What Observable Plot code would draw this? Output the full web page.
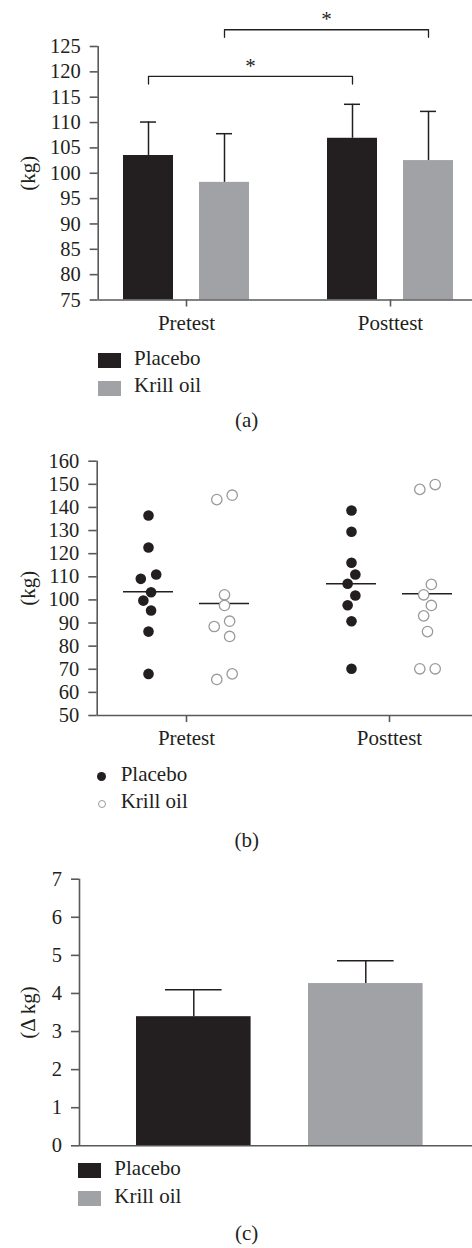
<!DOCTYPE html>
<html><head><meta charset="utf-8">
<script src="https://cdn.jsdelivr.net/npm/d3@7"></script>
<script src="https://cdn.jsdelivr.net/npm/@observablehq/plot@0.6"></script>
<style>
body{margin:0;background:#fff;}
#root{position:relative;width:472px;height:1248px;font-family:'Liberation Serif',serif;color:#231f20;overflow:hidden;}
.lbl{position:absolute;font-family:'Liberation Serif',serif;font-size:21px;line-height:21px;white-space:nowrap;}
.sw{position:absolute;width:23px;height:15px;}
.cap{position:absolute;font-family:'Liberation Serif',serif;font-size:21px;line-height:21px;width:100px;text-align:center;}
.dot{position:absolute;border-radius:50%;box-sizing:border-box;}
</style></head><body><div id="root"></div>
<script>
// ---------- data ----------
const times = ["Pretest", "Posttest"];
const groups = ["Placebo", "Krill oil"];

// (a) group means and upper error (kg)
const meanPlacebo = [103.5, 106.9];
const meanKrill = [98.2, 102.5];
const errPlacebo = [6.6, 6.7];
const errKrill = [9.6, 9.7];
const yTicksA = [75, 80, 85, 90, 95, 100, 105, 110, 115, 120, 125];
// significance brackets: Pretest vs Posttest within group
const sigGroups = ["Placebo", "Krill oil"];
const sigLevels = [119.1, 128.3];
const sigLabels = ["*", "*"];

// (b) individual values (kg)
const prePlacebo = [136.5, 122.7, 111.0, 109.1, 103.3, 99.7, 95.4, 86.3, 68.0];
const preKrill = [145.3, 143.4, 102.2, 97.6, 90.8, 88.5, 84.2, 68.0, 65.6];
const postPlacebo = [138.7, 129.5, 116.1, 111.0, 107.0, 101.9, 97.7, 90.8, 70.2];
const postKrill = [149.9, 147.8, 106.7, 102.2, 97.6, 93.1, 86.3, 70.2, 70.2];
const yTicksB = [50, 60, 70, 80, 90, 100, 110, 120, 130, 140, 150, 160];

// (c) change (Δ kg)
const deltaMean = [3.39, 4.26];
const deltaErr = [0.71, 0.60];
const yTicksC = [0, 1, 2, 3, 4, 5, 6, 7];

// ---------- styling ----------
const INK = "#231f20", GRAY = "#a1a2a5", AXIS = "#58595b", OPEN = "#9a9a9a";
const FONT = "'Liberation Serif', serif";
const root = document.getElementById("root");
const baseStyle = {fontFamily: FONT, fontSize: "21px", color: INK, background: "transparent", overflow: "visible"};
function place(el, top) { el.style.position = "absolute"; el.style.left = "0px"; el.style.top = top + "px"; root.appendChild(el); }
function addText(cls, txt, left, top) { const d = document.createElement("div"); d.className = cls; d.textContent = txt; d.style.left = left + "px"; d.style.top = top + "px"; root.appendChild(d); return d; }
function addBox(cls, left, top, w, h, css) { const d = document.createElement("div"); d.className = cls; Object.assign(d.style, {left: left + "px", top: top + "px", width: w + "px", height: h + "px"}, css); root.appendChild(d); return d; }
const color = {domain: groups, range: [INK, GRAY]};
const axisCommon = {stroke: AXIS, strokeWidth: 1.6, label: null, fontFamily: FONT};
const intFmt = d3.format("d");
const yLabel = (txt, axX) => Plot.text([txt], {frameAnchor: "left", textAnchor: "middle", lineAnchor: "middle", rotate: -90, dx: 28 - axX, fontSize: 21, fontFamily: FONT, fill: INK});

// ---------- (a) ----------
{
  const W = 472, axX = 97.7, cat0 = 186, pxU = 204;
  const off = 38 / pxU, hw = 25 / pxU, cap = 8 / pxU;
  const goff = g => (g === "Placebo" ? -off : off);
  const rows = [];
  times.forEach((t, i) => {
    rows.push({time: t, group: "Placebo", x: i + goff("Placebo"), mean: meanPlacebo[i], top: meanPlacebo[i] + errPlacebo[i]});
    rows.push({time: t, group: "Krill oil", x: i + goff("Krill oil"), mean: meanKrill[i], top: meanKrill[i] + errKrill[i]});
  });
  const brLines = [], brStars = [];
  sigGroups.forEach((g, k) => {
    const x1 = 0 + goff(g), x2 = 1 + goff(g), lv = sigLevels[k], dr = lv - 1.5;
    brLines.push({k, x: x1, y: dr}, {k, x: x1, y: lv}, {k, x: x2, y: lv}, {k, x: x2, y: dr});
    brStars.push({x: (x1 + x2) / 2, y: lv, t: sigLabels[k]});
  });
  const yMin = 75, yMax = 125;
  const p = Plot.plot({
    width: W, height: 336, marginLeft: axX, marginRight: 0, marginTop: 46, marginBottom: 36.5,
    x: {type: "linear", domain: [(axX - cat0) / pxU, (W - cat0) / pxU], axis: null},
    y: {domain: [yMin, yMax], axis: null},
    color, style: baseStyle,
    marks: [
      Plot.rect(rows, {x1: d => d.x - hw, x2: d => d.x + hw, y1: yMin, y2: "mean", fill: "group"}),
      Plot.ruleX(rows, {x: "x", y1: "mean", y2: "top", stroke: INK, strokeWidth: 1.5}),
      Plot.ruleY(rows, {y: "top", x1: d => d.x - cap, x2: d => d.x + cap, stroke: INK, strokeWidth: 1.5}),
      Plot.line(brLines, {x: "x", y: "y", z: "k", stroke: INK, strokeWidth: 1.3}),
      Plot.text(brStars, {x: "x", y: "y", text: "t", dy: -10.5, fontSize: 21, fontFamily: FONT, fill: INK}),
      Plot.ruleY([yMin], {stroke: AXIS, strokeWidth: 1.6}),
      Plot.ruleX([(axX - cat0) / pxU], {y1: yMin, y2: yMax, stroke: AXIS, strokeWidth: 1.6}),
      Plot.axisY({...axisCommon, ticks: yTicksA, tickFormat: intFmt, tickSize: 8, tickPadding: 9.5, fontSize: 20.5}),
      Plot.axisX({...axisCommon, ticks: [0, 1], tickFormat: i => times[i], tickSize: 7, tickPadding: 8, fontSize: 21}),
      yLabel("(kg)", axX)
    ]
  });
  place(p, 0);
  addBox("sw", 98, 353, 23, 15, {background: INK});
  addBox("sw", 98, 381, 23, 15, {background: GRAY});
  addText("lbl", groups[0], 134, 348.4);
  addText("lbl", groups[1], 134, 375.4);
  addText("cap", "(a)", 196.7, 410.4);
}

// ---------- (b) ----------
function swarmSlots(vals, pxPerUnit, stepPx, minDist) {
  const n = vals.length, slot = new Array(n);
  const order = d3.range(n).sort((a, b) => vals[b] - vals[a]);
  const placed = [];
  for (const i of order) {
    for (const s of [0, -1, 1, -2, 2, -3, 3, -4, 4]) {
      if (placed.every(j => Math.hypot((s - slot[j]) * stepPx, (vals[i] - vals[j]) * pxPerUnit) >= minDist)) { slot[i] = s; placed.push(i); break; }
    }
  }
  let cluster = [order[0]];
  const flush = () => { const m = d3.mean(cluster, j => slot[j]); cluster.forEach(j => slot[j] -= m); };
  for (let k = 1; k < n; k++) {
    const i = order[k], q = order[k - 1];
    if ((vals[q] - vals[i]) * pxPerUnit < minDist) cluster.push(i); else { flush(); cluster = [i]; }
  }
  flush();
  return slot;
}
{
  const W = 472, axX = 96.7, cat0 = 186, pxU = 203, mTop = 20.7, mBot = 35, H = 310;
  const yMin = 50, yMax = 160;
  const ppu = (H - mTop - mBot) / (yMax - yMin);
  const off = 38 / pxU, hw = 25 / pxU, step = 7.7 / pxU;
  const sets = [
    {time: 0, group: "Placebo", vals: prePlacebo},
    {time: 0, group: "Krill oil", vals: preKrill},
    {time: 1, group: "Placebo", vals: postPlacebo},
    {time: 1, group: "Krill oil", vals: postKrill}
  ];
  const dots = [], means = [];
  for (const s of sets) {
    const cx = s.time + (s.group === "Placebo" ? -off : off);
    const slots = swarmSlots(s.vals, ppu, 7.7, 10.5);
    s.vals.forEach((v, i) => dots.push({group: s.group, x: cx + slots[i] * step, y: v}));
    means.push({x: cx, mean: d3.mean(s.vals)});
  }
  const p = Plot.plot({
    width: W, height: H, marginLeft: axX, marginRight: 0, marginTop: mTop, marginBottom: mBot,
    x: {type: "linear", domain: [(axX - cat0) / pxU, (W - cat0) / pxU], axis: null},
    y: {domain: [yMin, yMax], axis: null},
    style: baseStyle,
    marks: [
      Plot.ruleY(means, {y: "mean", x1: d => d.x - hw, x2: d => d.x + hw, stroke: INK, strokeWidth: 1.5}),
      Plot.dot(dots.filter(d => d.group === "Placebo"), {x: "x", y: "y", r: 5.3, fill: INK, stroke: "none"}),
      Plot.dot(dots.filter(d => d.group === "Krill oil"), {x: "x", y: "y", r: 5.2, fill: "white", stroke: OPEN, strokeWidth: 1.3}),
      Plot.ruleY([yMin], {stroke: AXIS, strokeWidth: 1.6}),
      Plot.ruleX([(axX - cat0) / pxU], {y1: yMin, y2: yMax, stroke: AXIS, strokeWidth: 1.6}),
      Plot.axisY({...axisCommon, ticks: yTicksB, tickFormat: intFmt, tickSize: 8.4, tickPadding: 9.5, fontSize: 20.5}),
      Plot.axisX({...axisCommon, ticks: [0, 1], tickFormat: i => times[i], tickSize: 7, tickPadding: 8, fontSize: 21}),
      yLabel("(kg)", axX)
    ]
  });
  place(p, 440);
  addBox("dot", 97.1, 772.1, 9.2, 9.2, {background: INK});
  addBox("dot", 97.5, 799.8, 8.4, 8.4, {border: "1px solid " + OPEN, background: "white"});
  addText("lbl", groups[0], 120.7, 764.1);
  addText("lbl", groups[1], 120.7, 791.4);
  addText("cap", "(b)", 196.7, 830.4);
}

// ---------- (c) ----------
{
  const W = 472, axX = 79, cat0 = 193.3, pxU = 172, mTop = 18.7, mBot = 5, H = 290.3;
  const yMin = 0, yMax = 7;
  const hw = 57.3 / pxU, cap = 28.3 / pxU;
  const rows = groups.map((g, i) => ({group: g, x: i, mean: deltaMean[i], top: deltaMean[i] + deltaErr[i]}));
  const p = Plot.plot({
    width: W, height: H, marginLeft: axX, marginRight: 0, marginTop: mTop, marginBottom: mBot,
    x: {type: "linear", domain: [(axX - cat0) / pxU, (W - cat0) / pxU], axis: null},
    y: {domain: [yMin, yMax], axis: null},
    color, style: baseStyle,
    marks: [
      Plot.rect(rows, {x1: d => d.x - hw, x2: d => d.x + hw, y1: yMin, y2: "mean", fill: "group"}),
      Plot.ruleX(rows, {x: "x", y1: "mean", y2: "top", stroke: INK, strokeWidth: 1.5}),
      Plot.ruleY(rows, {y: "top", x1: d => d.x - cap, x2: d => d.x + cap, stroke: INK, strokeWidth: 1.5}),
      Plot.ruleY([yMin], {stroke: AXIS, strokeWidth: 1.6}),
      Plot.ruleX([(axX - cat0) / pxU], {y1: yMin, y2: yMax, stroke: AXIS, strokeWidth: 1.6}),
      Plot.axisY({...axisCommon, ticks: yTicksC, tickFormat: intFmt, tickSize: 8, tickPadding: 9.5, fontSize: 20.5}),
      yLabel("(Δ kg)", axX)
    ]
  });
  place(p, 860);
  addBox("sw", 78, 1163.3, 23, 15, {background: INK});
  addBox("sw", 78, 1191, 23, 15, {background: GRAY});
  addText("lbl", groups[0], 114.3, 1158.1);
  addText("lbl", groups[1], 114.3, 1185.7);
  addText("cap", "(c)", 196.7, 1223.4);
}
</script></body></html>
